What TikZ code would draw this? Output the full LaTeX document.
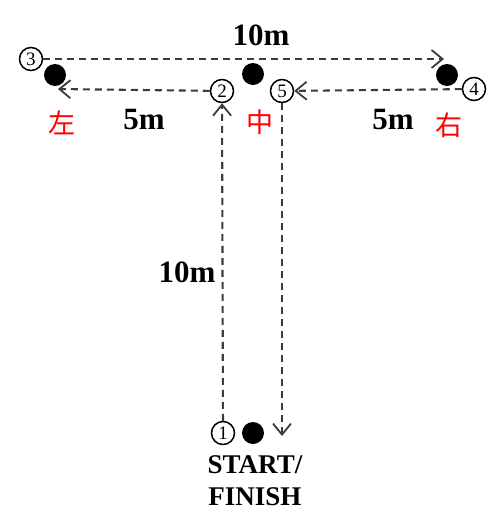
\documentclass[tikz,border=0pt]{standalone}
\usepackage{fontspec}
\setmainfont{Liberation Serif}
\newfontfamily\cjk{Noto Sans CJK SC}
\usetikzlibrary{arrows.meta}
\definecolor{lineg}{HTML}{3c3c3c}
\begin{document}
\begin{tikzpicture}[x=1pt,y=-1pt,
  num/.style={circle,draw=black,line width=1.5pt,fill=white,minimum size=23pt,inner sep=0pt,font=\fontsize{19}{19}\selectfont},
  dot/.style={circle,fill=black,minimum size=22pt,inner sep=0pt},
  route/.style={draw=lineg,line width=2.1pt,dash pattern=on 7pt off 5pt},
  tip/.style={-{Straight Barb[length=11pt,width=18pt,line width=1.8pt]}},
  dist/.style={font=\bfseries\fontsize{31}{31}\selectfont,inner sep=0pt},
  side/.style={text=red,font=\cjk\fontsize{27}{27}\selectfont,inner sep=0pt},
  startlbl/.style={font=\bfseries\fontsize{27}{32}\selectfont,align=center,inner sep=0pt}]
\useasboundingbox (0,0) rectangle (500,528);
% cones
\node[dot] (dl) at (55,75) {};
\node[dot] (dm) at (253,74) {};
\node[dot] (dr) at (447,75) {};
\node[dot] (ds) at (253,433) {};
% numbered points
\node[num] (p1) at (223,433) {1};
\node[num] (p2) at (222,91) {2};
\node[num] (p3) at (31,59) {3};
\node[num] (p4) at (474,89) {4};
\node[num] (p5) at (282,91) {5};
\coordinate (t3) at (444,59);
\coordinate (t2) at (58,89);
\coordinate (t5) at (282,436);
% routes
\draw[route,tip] (p1) -- (p2);
\draw[route,tip] (p2) -- (t2);
\draw[route,tip] (p3) -- (t3);
\draw[route,tip] (p4) -- (p5);
\draw[route,tip] (p5) -- (t5);
% labels
\node[dist] (l10t) at (261,35) {10m};
\node[dist] (l5l) at (144,119) {5m};
\node[dist] (l5r) at (393,119) {5m};
\node[dist] (l10v) at (187,272) {10m};
\node[side] (zl) at (62,123) {左};
\node[side] (zm) at (260,122) {中};
\node[side] (zr) at (449,125) {右};
\node[startlbl] (st) at (255,481) {START/\\FINISH};
\end{tikzpicture}
\end{document}
